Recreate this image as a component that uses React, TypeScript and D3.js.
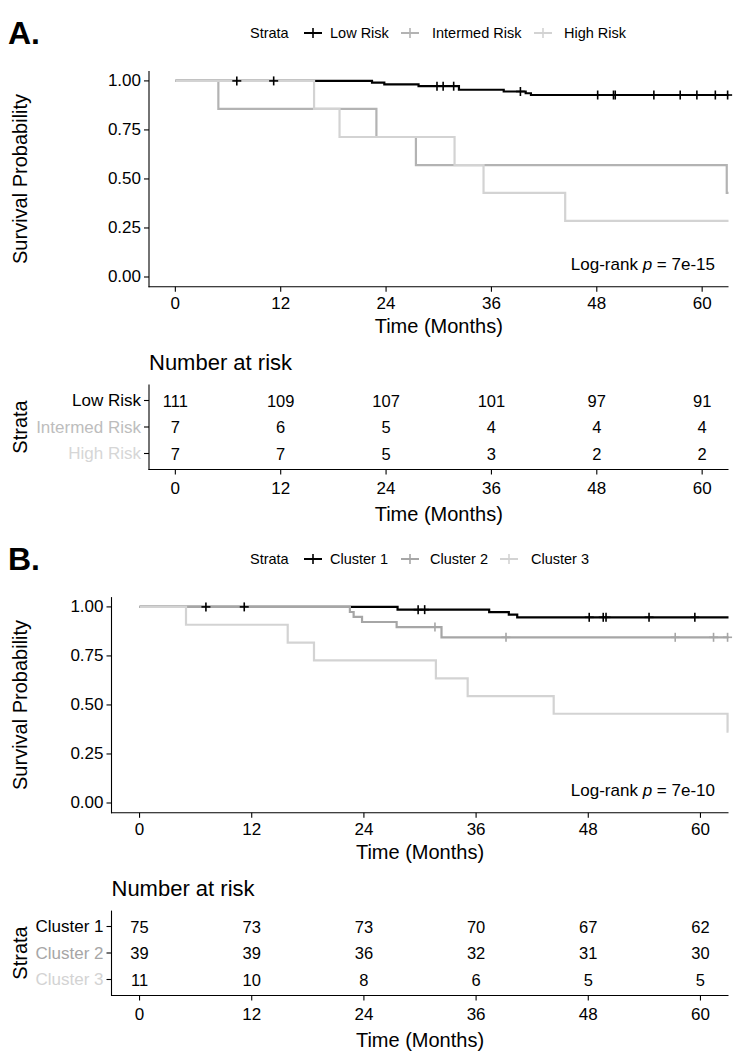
import React from 'react';
import * as d3 from 'd3';

const W = 739;
const H = 1055;
const FONT = "'Liberation Sans', Arial, Helvetica, sans-serif";

// Shared axes
const monthTicks = [0, 12, 24, 36, 48, 60];
const survTicks = [0, 0.25, 0.5, 0.75, 1];
const followUpEnd = 63;

// ---- Panel A: risk groups ----
const riskStrata = ['Low Risk', 'Intermed Risk', 'High Risk'];
const riskLineColors = ['#000000', '#B3B3B3', '#D3D3D3'];
const riskLabelColors = ['#000000', '#BDBDBD', '#D6D6D6'];

const lowRiskTimes = [0, 22.4, 23.8, 27.7, 32.3, 37.4, 39.9, 40.5];
const lowRiskSurv = [1, 0.991, 0.982, 0.973, 0.955, 0.946, 0.937, 0.928];
const lowRiskCensor = [7.0, 11.2, 29.8, 30.5, 31.7, 39.3, 48.1, 49.9, 50.1, 54.5, 57.5, 59.4, 61.5, 62.9];

const intermedRiskTimes = [0, 4.9, 22.9, 27.4, 62.8];
const intermedRiskSurv = [1, 0.857, 0.714, 0.571, 0.429];
const intermedRiskCensor: number[] = [];

const highRiskTimes = [0, 15.8, 18.7, 31.8, 35.1, 44.4];
const highRiskSurv = [1, 0.857, 0.714, 0.571, 0.429, 0.286];
const highRiskCensor: number[] = [];

const atRiskLow = [111, 109, 107, 101, 97, 91];
const atRiskIntermed = [7, 6, 5, 4, 4, 4];
const atRiskHigh = [7, 7, 5, 3, 2, 2];

// ---- Panel B: clusters ----
const clusterStrata = ['Cluster 1', 'Cluster 2', 'Cluster 3'];
const clusterLineColors = ['#000000', '#A6A6A6', '#D3D3D3'];
const clusterLabelColors = ['#000000', '#A6A6A6', '#D3D3D3'];

const cluster1Times = [0, 27.6, 37.4, 39.5, 40.4];
const cluster1Surv = [1, 0.986, 0.973, 0.961, 0.947];
const cluster1Censor = [7.1, 11.2, 29.8, 30.5, 48.1, 49.6, 49.9, 54.5, 59.4];

const cluster2Times = [0, 22.5, 22.9, 23.8, 27.5, 32.3];
const cluster2Surv = [1, 0.974, 0.949, 0.923, 0.897, 0.845];
const cluster2Censor = [31.6, 39.2, 57.3, 61.4, 62.9];

const cluster3Times = [0, 4.97, 15.85, 18.66, 31.7, 35.1, 44.3, 62.9];
const cluster3Surv = [1, 0.909, 0.818, 0.727, 0.636, 0.545, 0.455, 0.364];
const cluster3Censor: number[] = [];

const atRiskC1 = [75, 73, 73, 70, 67, 62];
const atRiskC2 = [39, 39, 36, 32, 31, 30];
const atRiskC3 = [11, 10, 8, 6, 5, 5];

type Curve = { times: number[]; surv: number[]; censor: number[] };

type PanelProps = {
  dy: number;
  left: number;
  letter: string;
  strata: string[];
  lineColors: string[];
  labelColors: string[];
  curves: Curve[];
  atRisk: number[][];
  pValue: string;
  legendKeyX: number[];
  legendLabelX: number[];
};

function survAt(c: Curve, t: number) {
  let s = c.surv[0];
  for (let i = 0; i < c.times.length; i++) {
    if (c.times[i] <= t) s = c.surv[i];
  }
  return s;
}

function KMPanel(p: PanelProps) {
  const right = 728.5;
  const x = d3.scaleLinear().domain([-3, 63]).range([p.left, right]);
  const y = d3.scaleLinear().domain([-0.05, 1.05]).range([286.8 + p.dy, 71.1 + p.dy]);
  const line = d3
    .line<[number, number]>()
    .x((d) => x(d[0]))
    .y((d) => y(d[1]))
    .curve(d3.curveStepAfter);

  const plotBottom = y(-0.05);
  const plotTop = y(1.05);
  const midX = (p.left + right) / 2;

  // risk table geometry
  const rowY = d3.scalePoint<string>().domain(p.strata).range([400.5 + p.dy, 453.5 + p.dy]);
  const tabTop = 384.6 + p.dy;
  const tabBottom = 469.5 + p.dy;

  const legendY = 33 + p.dy;

  return (
    <g fontFamily={FONT}>
      <text x={8} y={33 + p.dy} fontSize={32} fontWeight="bold" dominantBaseline="central">
        {p.letter}
      </text>

      {/* legend */}
      <text x={250} y={legendY} fontSize={14.5} dominantBaseline="central">
        Strata
      </text>
      {p.strata.map((s, i) => (
        <g key={s}>
          <line x1={p.legendKeyX[i] - 9} x2={p.legendKeyX[i] + 9} y1={legendY} y2={legendY} stroke={p.lineColors[i]} strokeWidth={2} />
          <line x1={p.legendKeyX[i]} x2={p.legendKeyX[i]} y1={legendY - 5} y2={legendY + 5} stroke={p.lineColors[i]} strokeWidth={1.6} />
          <text x={p.legendLabelX[i]} y={legendY} fontSize={14.5} dominantBaseline="central">
            {s}
          </text>
        </g>
      ))}

      {/* survival curves */}
      {p.curves.map((c, i) => {
        const pts: [number, number][] = c.times.map((t, j) => [t, c.surv[j]] as [number, number]);
        pts.push([followUpEnd, c.surv[c.surv.length - 1]]);
        return <path key={i} d={line(pts) || ''} fill="none" stroke={p.lineColors[i]} strokeWidth={2.2} />;
      })}
      {p.curves.map((c, i) => (
        <g key={'c' + i}>
          {c.censor.map((t, j) => {
            const cx = x(t);
            const cy = y(survAt(c, t));
            return (
              <g key={j} stroke={p.lineColors[i]} strokeWidth={1.6}>
                <line x1={cx - 4.5} x2={cx + 4.5} y1={cy} y2={cy} />
                <line x1={cx} x2={cx} y1={cy - 4.5} y2={cy + 4.5} />
              </g>
            );
          })}
        </g>
      ))}

      <text x={715} y={264 + p.dy} fontSize={17} textAnchor="end" dominantBaseline="central">
        Log-rank <tspan fontStyle="italic">p</tspan> = {p.pValue}
      </text>

      {/* survival axes */}
      <line x1={p.left} x2={p.left} y1={plotTop} y2={plotBottom + 0.5} stroke="#000" strokeWidth={1.1} />
      <line x1={p.left - 0.5} x2={right} y1={plotBottom} y2={plotBottom} stroke="#000" strokeWidth={1.1} />
      {survTicks.map((v) => (
        <g key={v}>
          <line x1={p.left - 5} x2={p.left} y1={y(v)} y2={y(v)} stroke="#000" strokeWidth={1.1} />
          <text x={p.left - 8} y={y(v)} fontSize={17} textAnchor="end" dominantBaseline="central">
            {d3.format('.2f')(v)}
          </text>
        </g>
      ))}
      {monthTicks.map((t) => (
        <g key={t}>
          <line x1={x(t)} x2={x(t)} y1={plotBottom} y2={plotBottom + 5} stroke="#000" strokeWidth={1.1} />
          <text x={x(t)} y={plotBottom + 16.5} fontSize={17} textAnchor="middle" dominantBaseline="central">
            {t}
          </text>
        </g>
      ))}
      <text x={midX} y={326 + p.dy} fontSize={20} textAnchor="middle" dominantBaseline="central">
        Time (Months)
      </text>
      <text
        transform={`translate(20,${(plotTop + plotBottom) / 2}) rotate(-90)`}
        fontSize={20}
        textAnchor="middle"
        dominantBaseline="central"
      >
        Survival Probability
      </text>

      {/* number at risk table */}
      <text x={p.left} y={362 + p.dy} fontSize={22} dominantBaseline="central">
        Number at risk
      </text>
      {p.strata.map((s, i) => (
        <g key={'r' + s}>
          <text x={p.left - 8} y={rowY(s)} fontSize={17} textAnchor="end" dominantBaseline="central" fill={p.labelColors[i]}>
            {s}
          </text>
          <line x1={p.left - 5} x2={p.left} y1={rowY(s)} y2={rowY(s)} stroke="#000" strokeWidth={1.1} />
          {p.atRisk[i].map((n, j) => (
            <text key={j} x={x(monthTicks[j])} y={rowY(s)} fontSize={16.5} textAnchor="middle" dominantBaseline="central">
              {n}
            </text>
          ))}
        </g>
      ))}
      <line x1={p.left} x2={p.left} y1={tabTop} y2={tabBottom + 0.5} stroke="#000" strokeWidth={1.1} />
      <line x1={p.left - 0.5} x2={right} y1={tabBottom} y2={tabBottom} stroke="#000" strokeWidth={1.1} />
      {monthTicks.map((t) => (
        <g key={'t' + t}>
          <line x1={x(t)} x2={x(t)} y1={tabBottom} y2={tabBottom + 5} stroke="#000" strokeWidth={1.1} />
          <text x={x(t)} y={tabBottom + 19} fontSize={17} textAnchor="middle" dominantBaseline="central">
            {t}
          </text>
        </g>
      ))}
      <text x={midX} y={513.5 + p.dy} fontSize={20} textAnchor="middle" dominantBaseline="central">
        Time (Months)
      </text>
      <text
        transform={`translate(20,${427 + p.dy}) rotate(-90)`}
        fontSize={20}
        textAnchor="middle"
        dominantBaseline="central"
      >
        Strata
      </text>
    </g>
  );
}

export default function App() {
  const riskCurves: Curve[] = [
    { times: lowRiskTimes, surv: lowRiskSurv, censor: lowRiskCensor },
    { times: intermedRiskTimes, surv: intermedRiskSurv, censor: intermedRiskCensor },
    { times: highRiskTimes, surv: highRiskSurv, censor: highRiskCensor },
  ];
  const clusterCurves: Curve[] = [
    { times: cluster1Times, surv: cluster1Surv, censor: cluster1Censor },
    { times: cluster2Times, surv: cluster2Surv, censor: cluster2Censor },
    { times: cluster3Times, surv: cluster3Surv, censor: cluster3Censor },
  ];
  return (
    <svg width={W} height={H} style={{ position: 'absolute', left: 0, top: 0, background: '#fff' }}>
      <rect width={W} height={H} fill="#fff" />
      <KMPanel
        dy={0}
        left={149}
        letter="A."
        strata={riskStrata}
        lineColors={riskLineColors}
        labelColors={riskLabelColors}
        curves={riskCurves}
        atRisk={[atRiskLow, atRiskIntermed, atRiskHigh]}
        pValue="7e-15"
        legendKeyX={[313, 410, 543]}
        legendLabelX={[330, 432, 564]}
      />
      <KMPanel
        dy={526}
        left={111.5}
        letter="B."
        strata={clusterStrata}
        lineColors={clusterLineColors}
        labelColors={clusterLabelColors}
        curves={clusterCurves}
        atRisk={[atRiskC1, atRiskC2, atRiskC3]}
        pValue="7e-10"
        legendKeyX={[313, 410, 509]}
        legendLabelX={[330, 430, 531]}
      />
    </svg>
  );
}
